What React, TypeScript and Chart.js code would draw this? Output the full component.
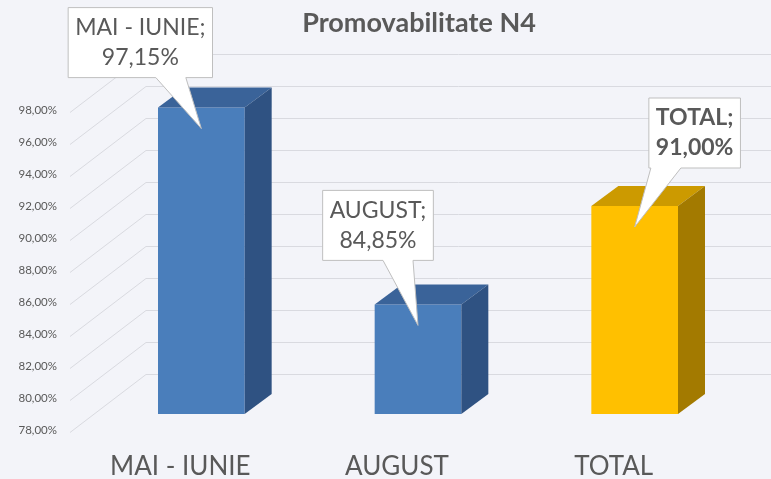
import React, { useEffect, useRef } from 'react';
import { Chart, registerables } from 'chart.js';

Chart.register(...registerables);

// ---- data ----
const categories = ['MAI - IUNIE', 'AUGUST', 'TOTAL'];
const values = [97.15, 84.85, 91.0];
const yMin = 78;
const yMax = 98;
const yStep = 2;
const chartTitle = 'Promovabilitate N4';

// ---- styles ----
const FONT = 'Lato, "Open Sans", sans-serif';
const BG = '#f3f4f9';
const TEXT = '#595959';
const GRID = '#d9dae0';
const frontColors = ['#4a7ebb', '#4a7ebb', '#ffc000'];
const topColors = ['#3a6399', '#3a6399', '#cc9a00'];
const sideColors = ['#2f5282', '#2f5282', '#a37a00'];
const calloutBold = [false, false, true];
// box centre-bottom relative to pointer tip
const calloutPos = [
  { dx: -61, dy: -51 },
  { dx: -40, dy: -65 },
  { dx: 60, dy: -59 },
];
const WALL = { dx: 74, dy: -56 };
const BAR_FRONT = { dx: 21, dy: -16 };
const BAR_DEPTH = { dx: 27, dy: -20 };

const fmt = (v: number) => v.toFixed(2).replace('.', ',') + '%';

const plugin3d = {
  id: 'plugin3d',
  beforeDraw(chart: any) {
    const { ctx, width, height, chartArea, scales } = chart;
    ctx.save();
    ctx.fillStyle = BG;
    ctx.fillRect(0, 0, width, height);
    // title
    ctx.fillStyle = TEXT;
    ctx.font = `bold 27px ${FONT}`;
    ctx.textAlign = 'center';
    ctx.textBaseline = 'middle';
    ctx.fillText(chartTitle, 419, 23);
    // grid (back wall + side wall)
    const ys = scales.y;
    ctx.strokeStyle = GRID;
    ctx.lineWidth = 1;
    for (let v = yMin; v <= yMax; v += yStep) {
      const y = Math.round(ys.getPixelForValue(v)) + 0.5;
      ctx.beginPath();
      ctx.moveTo(chartArea.left - 2, y + 2);
      ctx.lineTo(chartArea.left + WALL.dx, y + WALL.dy);
      ctx.lineTo(width, y + WALL.dy);
      ctx.stroke();
    }
    ctx.restore();
  },
  beforeDatasetsDraw(chart: any) {
    chart.ctx.save();
    chart.ctx.translate(BAR_FRONT.dx, BAR_FRONT.dy);
  },
  afterDatasetsDraw(chart: any) {
    const ctx = chart.ctx;
    ctx.restore();
    const meta = chart.getDatasetMeta(0);
    const basePx = chart.scales.y.getPixelForValue(yMin);
    meta.data.forEach((el: any, i: number) => {
      const p = el.getProps(['x', 'y', 'width'], true);
      const x0 = p.x - p.width / 2 + BAR_FRONT.dx;
      const x1 = p.x + p.width / 2 + BAR_FRONT.dx;
      const yt = p.y + BAR_FRONT.dy;
      const yb = basePx + BAR_FRONT.dy;
      ctx.save();
      // top
      ctx.fillStyle = topColors[i];
      ctx.beginPath();
      ctx.moveTo(x0, yt);
      ctx.lineTo(x1, yt);
      ctx.lineTo(x1 + BAR_DEPTH.dx, yt + BAR_DEPTH.dy);
      ctx.lineTo(x0 + BAR_DEPTH.dx, yt + BAR_DEPTH.dy);
      ctx.closePath();
      ctx.fill();
      // side
      ctx.fillStyle = sideColors[i];
      ctx.beginPath();
      ctx.moveTo(x1, yt);
      ctx.lineTo(x1 + BAR_DEPTH.dx, yt + BAR_DEPTH.dy);
      ctx.lineTo(x1 + BAR_DEPTH.dx, yb + BAR_DEPTH.dy);
      ctx.lineTo(x1, yb);
      ctx.closePath();
      ctx.fill();
      ctx.restore();
    });
    // callouts
    meta.data.forEach((el: any, i: number) => {
      const p = el.getProps(['x', 'y'], true);
      const tx = p.x + BAR_FRONT.dx;
      const ty = p.y + BAR_FRONT.dy + 21;
      const lines = [categories[i] + ';', fmt(values[i])];
      ctx.save();
      ctx.font = `${calloutBold[i] ? 'bold ' : ''}23px ${FONT}`;
      const tw = Math.max(...lines.map((l) => ctx.measureText(l).width));
      const bw = tw + 14;
      const lineH = 30;
      const bh = lineH * 2 + 10;
      const cx = tx + calloutPos[i].dx;
      const bottom = ty + calloutPos[i].dy;
      const left = cx - bw / 2;
      const right = cx + bw / 2;
      const top = bottom - bh;
      let bc = cx + (tx - cx) * 0.5;
      const hw = 15;
      bc = Math.max(left + hw + 2, Math.min(right - hw - 2, bc));
      ctx.beginPath();
      ctx.moveTo(left, top);
      ctx.lineTo(right, top);
      ctx.lineTo(right, bottom);
      ctx.lineTo(bc + hw, bottom);
      ctx.lineTo(tx, ty);
      ctx.lineTo(bc - hw, bottom);
      ctx.lineTo(left, bottom);
      ctx.closePath();
      ctx.fillStyle = '#ffffff';
      ctx.fill();
      ctx.strokeStyle = '#bfbfbf';
      ctx.lineWidth = 1;
      ctx.stroke();
      ctx.fillStyle = TEXT;
      ctx.textAlign = 'center';
      ctx.textBaseline = 'middle';
      lines.forEach((l, k) => ctx.fillText(l, cx, top + 5 + lineH / 2 + k * lineH));
      ctx.restore();
    });
  },
};

export default function App() {
  const ref = useRef<HTMLCanvasElement>(null);
  useEffect(() => {
    document.body.style.margin = '0';
    document.body.style.background = BG;
    const chart = new Chart(ref.current!, {
      type: 'bar',
      data: {
        labels: categories,
        datasets: [
          {
            data: values,
            backgroundColor: frontColors,
            borderWidth: 0,
            barPercentage: 0.4,
            categoryPercentage: 1,
          },
        ],
      },
      options: {
        animation: false,
        responsive: false,
        maintainAspectRatio: false,
        layout: { padding: { top: 110, right: 49, left: 0, bottom: 0 } },
        plugins: { legend: { display: false }, tooltip: { enabled: false }, title: { display: false } },
        scales: {
          x: {
            grid: { display: false, drawTicks: false },
            border: { display: false },
            ticks: { color: TEXT, font: { family: FONT, size: 26 }, padding: 21, maxRotation: 0 },
            afterFit: (s: any) => { s.height = 49; },
          },
          y: {
            min: yMin,
            max: yMax,
            grid: { display: false, drawTicks: false },
            border: { display: false },
            ticks: {
              stepSize: yStep,
              color: TEXT,
              font: { family: FONT, size: 11.5 },
              padding: 15,
              callback: (v: any) => fmt(Number(v)),
            },
            afterFit: (s: any) => { s.width = 72; },
          },
        },
      },
      plugins: [plugin3d],
    });
    return () => chart.destroy();
  }, []);
  return (
    <div style={{ width: 771, height: 479 }}>
      <canvas ref={ref} width={771} height={479} style={{ display: 'block' }} />
    </div>
  );
}
